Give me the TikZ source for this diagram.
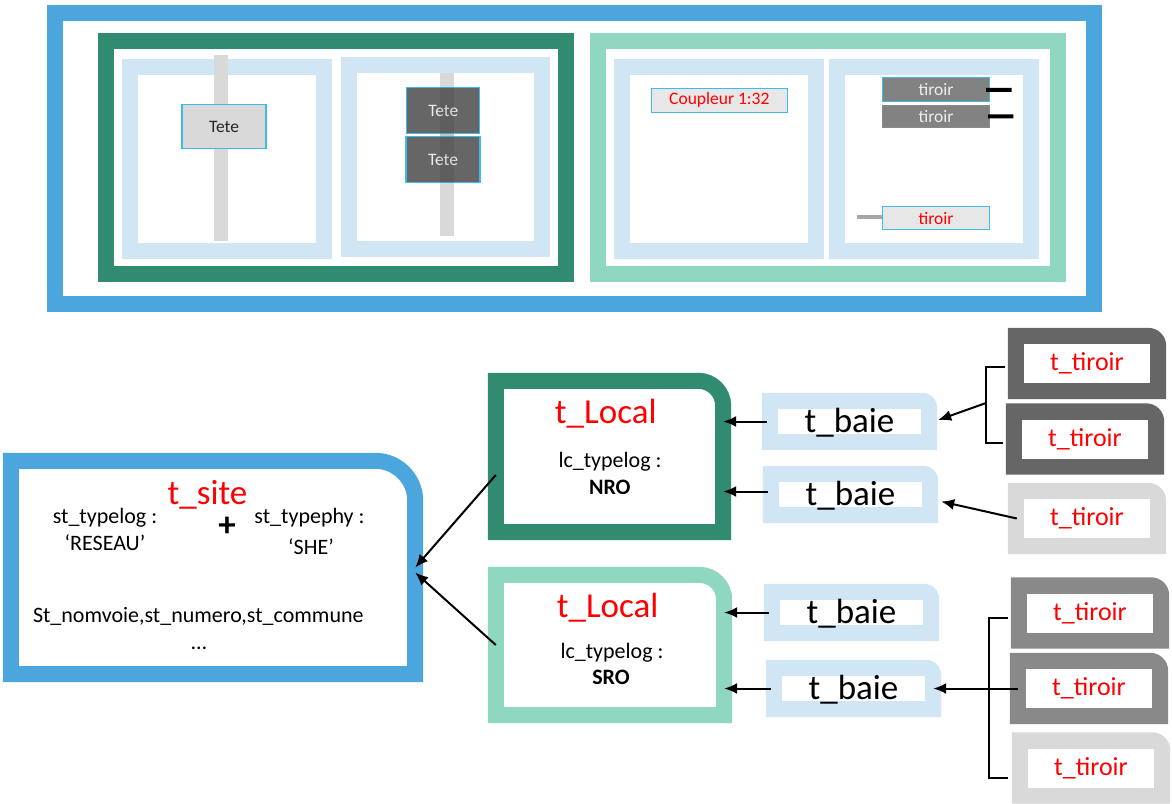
\documentclass[tikz,border=0pt]{standalone}
\usepackage{fontspec}
\setmainfont{Carlito}
\usetikzlibrary{arrows.meta,backgrounds}

\definecolor{bleusite}{HTML}{4BA6DE}
\definecolor{vertnro}{HTML}{318B70}
\definecolor{vertsro}{HTML}{8FD7C1}
\definecolor{bleubaie}{HTML}{D1E6F5}
\definecolor{cyantete}{HTML}{3DBBEB}
\definecolor{grisbarre}{HTML}{D9D9D9}
\definecolor{grisfonce}{HTML}{666666}
\definecolor{grismoyen}{HTML}{898989}
\definecolor{grisclair}{HTML}{D9D9D9}
\definecolor{grisboite}{HTML}{E7E7E7}
\definecolor{rouge}{HTML}{FF0000}

% contour avec le coin haut droit arrondi
\newcommand{\onglet}[2]{(#1.south west) -- (#1.north west) -- ([xshift=-#2]#1.north east) arc[start angle=90,end angle=0,radius=#2] -- (#1.south east) -- cycle}
\newcommand{\ongletplein}[2]{([shift={(-16pt,-16pt)}]#1.south west) -- ([shift={(-16pt,16pt)}]#1.north west) -- ([xshift=16pt-#2,yshift=16pt]#1.north east) arc[start angle=90,end angle=0,radius=#2] -- ([shift={(16pt,-16pt)}]#1.south east) -- cycle}

\tikzset{
  cadre/.style={line width=16pt},
  boite/.style={draw=none, inner sep=0pt},
  tete/.style={draw=cyantete, line width=1.2pt, inner sep=0pt, font=\fontsize{17.5}{20}\selectfont},
  titre/.style={text=rouge, inner sep=0pt, font=\fontsize{35}{40}\selectfont},
  champ/.style={inner sep=0pt, font=\fontsize{22}{26}\selectfont},
  baie/.style={fill=white, inner sep=0pt, minimum width=143, minimum height=25, text height=23pt, text depth=1pt, font=\fontsize{35}{40}\selectfont},
  tiroir/.style={fill=white, inner sep=0pt, minimum width=126, minimum height=39, text=rouge, font=\fontsize{26}{30}\selectfont},
  fleche/.style={-{Latex[length=13pt,width=11pt]}, line width=2pt},
  trait/.style={line width=2pt}
}

\begin{document}
\begin{tikzpicture}[x=1pt,y=-1pt]
  \useasboundingbox (0,0) rectangle (1172,803);

  % vue physique du site
  \draw[cadre, bleusite] (55,12.5) rectangle (1093.7,304);
  \draw[cadre, vertnro] (105.7,41) rectangle (566,274);
  \draw[cadre, vertsro] (597.5,41) rectangle (1058,274);

  % baies
  \draw[cadre, bleubaie] (130,66.7) rectangle (324,250.7);
  \draw[cadre, bleubaie] (348.7,65.3) rectangle (542,249.3);
  \draw[cadre, bleubaie] (622.3,66.7) rectangle (816,250.7);
  \draw[cadre, bleubaie] (837.3,66.7) rectangle (1031.3,250.7);

  % barres verticales
  \fill[grisbarre] (214,55) rectangle (228,241);
  \fill[grisbarre] (440,73) rectangle (454,236);

  % tetes
  \node[tete, fill=grisbarre, text=black!85, minimum width=84, minimum height=44] (tete1) at (224,126.7) {Tete};
  \node[tete, fill=grisfonce, text=white!93!black, minimum width=73, minimum height=46] (tete2) at (443.3,110.5) {Tete};
  \node[tete, fill=grisfonce, text=white!93!black, minimum width=74, minimum height=46] (tete3) at (443,159.7) {Tete};
  \fill[black, opacity=.08] (440,87.3) rectangle (454,182.7);

  % coupleur et tiroirs
  \node[tete, fill=grisboite, text=rouge, minimum width=136, minimum height=24] (coupleur) at (719.3,100.3) {Coupleur 1:32};
  \node[tete, fill=grismoyen!95!black, text=white!93!black, minimum width=107, minimum height=24] (tirA) at (936,89.8) {tiroir};
  \node[tete, draw=grismoyen, fill=grismoyen!95!black, text=white!93!black, minimum width=107, minimum height=22] (tirB) at (936,116.5) {tiroir};
  \node[tete, fill=grisboite, text=rouge, minimum width=107, minimum height=23] (tirC) at (936,218.3) {tiroir};
  \draw[line width=4pt] ([xshift=-4pt]tirA.east) -- (1011.7,90);
  \draw[line width=4pt] ([xshift=-2pt]tirB.east) -- (1013.3,116.3);
  \draw[line width=4pt, black!35] (857.3,217.3) -- ([yshift=1pt]tirC.west);

  % t_site
  \node[boite, minimum width=404, minimum height=213] (site) at (213,567.5) {};
  \draw[cadre, bleusite] \onglet{site}{40pt};
  \node[titre, anchor=base] (titresite) at (207.5,504) {t\_site};
  \node[champ, anchor=base] (typelog) at (105,523) {st\_typelog :};
  \node[champ, anchor=base] (reseau) at (105,550) {‘RESEAU’};
  \node[inner sep=0pt, font=\fontsize{35}{40}\selectfont\bfseries] (plus) at (227,527) {+};
  \node[champ, anchor=base] (typephy) at (309.5,523) {st\_typephy :};
  \node[champ, anchor=base] (she) at (311,554) {‘SHE’};
  \node[champ, anchor=base] (adresse) at (198.3,622) {St\_nomvoie,st\_numero,st\_commune};
  \node[champ, anchor=base] (suite) at (199,649) {…};

  % t_Local NRO
  \node[boite, minimum width=227, minimum height=151] (nro) at (609.5,456.5) {};
  \draw[cadre, vertnro] \onglet{nro}{25pt};
  \node[titre, anchor=base] (locnro) at (605.8,423) {t\_Local};
  \node[champ, anchor=base] (lcnro) at (610,467) {lc\_typelog :};
  \node[champ, anchor=base, font=\fontsize{22}{26}\selectfont\bfseries] (typnro) at (609.8,494) {NRO};

  % t_Local SRO
  \node[boite, minimum width=228, minimum height=140] (sro) at (610,645) {};
  \draw[cadre, vertsro] \onglet{sro}{25pt};
  \node[titre, anchor=base] (locsro) at (607.7,617) {t\_Local};
  \node[champ, anchor=base] (lcsro) at (612,658) {lc\_typelog :};
  \node[champ, anchor=base, font=\fontsize{22}{26}\selectfont\bfseries] (typsro) at (611,684) {SRO};

  % t_baie
  \node[baie] (baie1) at (849.5,421.5) {t\_baie};
  \node[baie] (baie2) at (850.5,494.5) {t\_baie};
  \node[baie] (baie3) at (851.5,612.5) {t\_baie};
  \node[baie] (baie4) at (853.5,688.5) {t\_baie};

  % t_tiroir
  \node[tiroir] (tir1) at (1087,363.5) {t\_tiroir};
  \node[tiroir] (tir2) at (1085,439) {t\_tiroir};
  \node[tiroir] (tir3) at (1087,518.5) {t\_tiroir};
  \node[tiroir] (tir4) at (1090,613) {t\_tiroir};
  \node[tiroir] (tir5) at (1089,688.5) {t\_tiroir};
  \node[tiroir] (tir6) at (1091,768) {t\_tiroir};

  \begin{scope}[on background layer]
    \fill[bleubaie] \ongletplein{baie1}{15pt};
    \fill[bleubaie] \ongletplein{baie2}{15pt};
    \fill[bleubaie] \ongletplein{baie3}{15pt};
    \fill[bleubaie] \ongletplein{baie4}{15pt};
    \fill[grisfonce] \ongletplein{tir1}{18pt};
    \fill[grisfonce] \ongletplein{tir2}{18pt};
    \fill[grisclair] \ongletplein{tir3}{18pt};
    \fill[grismoyen] \ongletplein{tir4}{18pt};
    \fill[grismoyen] \ongletplein{tir5}{18pt};
    \fill[grisclair] \ongletplein{tir6}{18pt};
  \end{scope}

  % liens
  \draw[fleche] ([yshift=-18.5pt]nro.west) -- (site.east);
  \draw[fleche] (sro.west) -- ([yshift=-5pt]site.east);
  \draw[fleche] ([xshift=-11pt]baie1.west) -- (nro.east |- baie1.west);
  \draw[fleche] ([xshift=-11pt,yshift=3pt]baie2.west) -- ([yshift=3pt]nro.east |- baie2.west);
  \draw[fleche] ([xshift=-11pt]baie3.west) -- (sro.east |- baie3.west);
  \draw[fleche] ([xshift=-11pt]baie4.west) -- (sro.east |- baie4.west);

  \coordinate (pince1) at (986,403);
  \draw[trait] ([shift={(-19pt,-3pt)}]tir1.west) -| (pince1) |- ([shift={(-19pt,-4pt)}]tir2.west);
  \draw[fleche] (pince1) -- ([xshift=17pt,yshift=1.5pt]baie1.east);
  \draw[fleche] ([xshift=-7pt]tir3.west) -- ([xshift=19pt,yshift=-7pt]baie2.east);

  \coordinate (pince2) at (989,688);
  \draw[trait] ([shift={(-19pt,-5pt)}]tir4.west) -| (pince2) |- ([shift={(-20pt,-10pt)}]tir6.west);
  \draw[fleche] ([xshift=-8pt]tir5.west) -- ([xshift=8pt]baie4.east);
\end{tikzpicture}
\end{document}
